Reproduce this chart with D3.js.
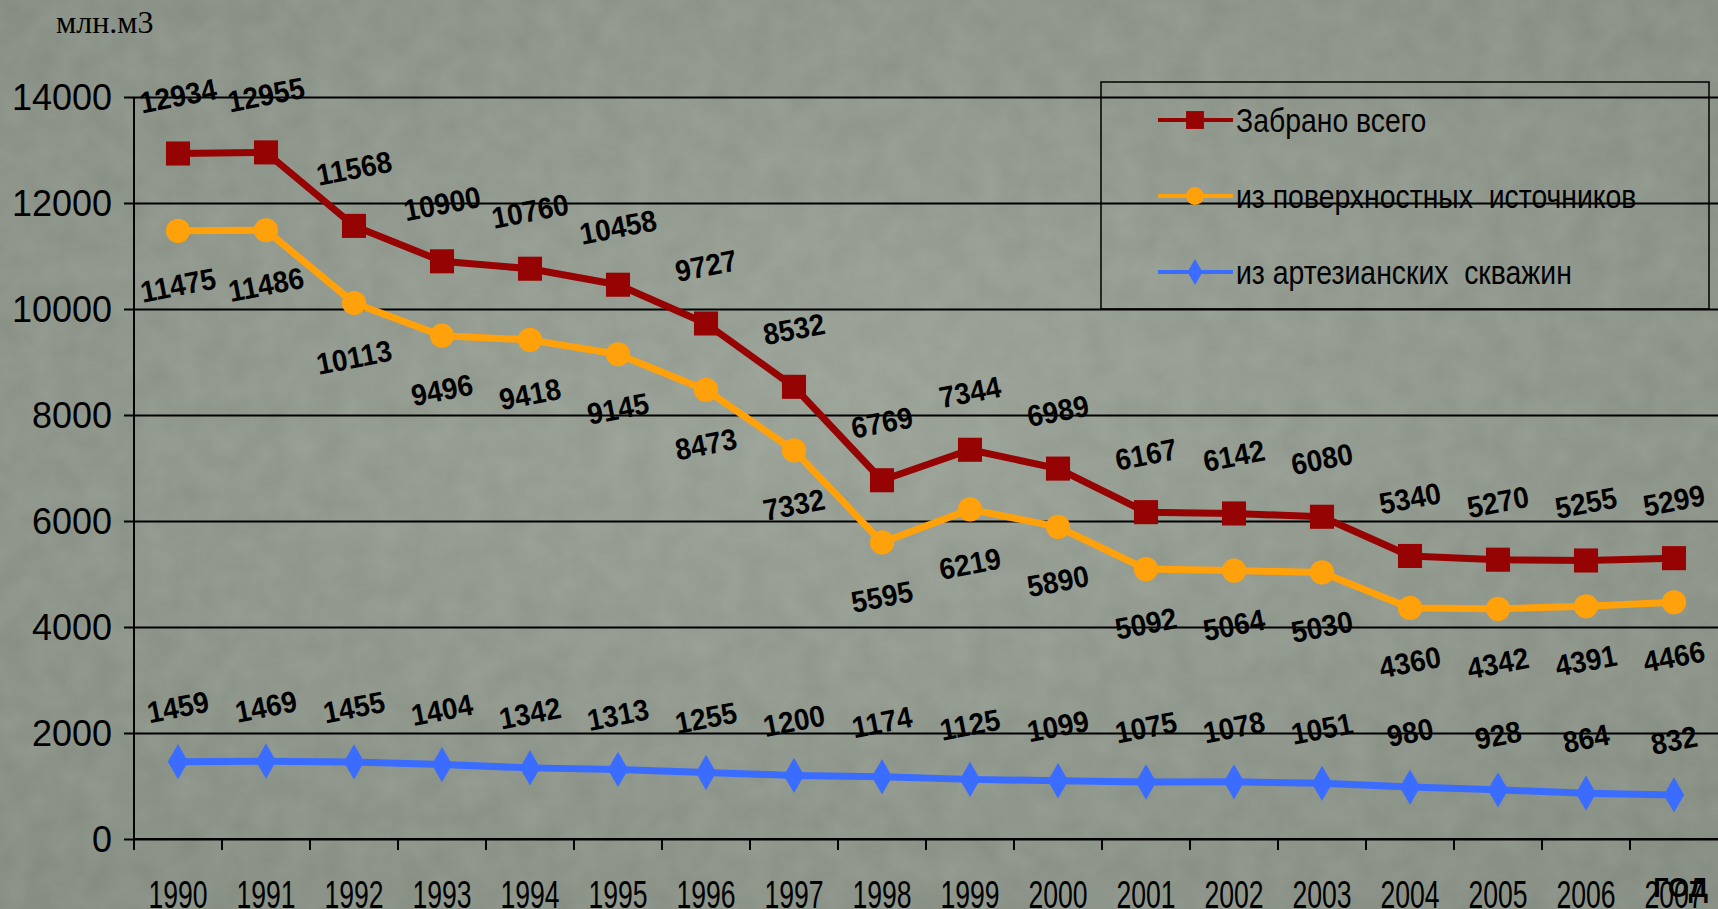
<!DOCTYPE html>
<html>
<head>
<meta charset="utf-8">
<script src="https://cdn.jsdelivr.net/npm/d3@7"></script>
<style>
  html, body { margin: 0; padding: 0; background: #8c9489; overflow: hidden; }
  svg { display: block; }
</style>
</head>
<body>
<div class="container"></div>
<script>
// yearly water intake, million m3
const years = ['1990', '1991', '1992', '1993', '1994', '1995', '1996', '1997', '1998',
  '1999', '2000', '2001', '2002', '2003', '2004', '2005', '2006', '2007'];
const totalTaken = [12934, 12955, 11568, 10900, 10760, 10458, 9727, 8532, 6769,
  7344, 6989, 6167, 6142, 6080, 5340, 5270, 5255, 5299];
const fromSurface = [11475, 11486, 10113, 9496, 9418, 9145, 8473, 7332, 5595,
  6219, 5890, 5092, 5064, 5030, 4360, 4342, 4391, 4466];
const fromArtesian = [1459, 1469, 1455, 1404, 1342, 1313, 1255, 1200, 1174,
  1125, 1099, 1075, 1078, 1051, 980, 928, 864, 832];
const yTicks = [0, 2000, 4000, 6000, 8000, 10000, 12000, 14000];
const seriesNames = ['Забрано всего', 'из поверхностных  источников', 'из артезианских  скважин'];

const globals = {
  width: 1718,
  height: 909,
  red: '#960303',
  orange: '#ffa10a',
  blue: '#3a6cff',
  ink: '#000'
};

const series = [
  { name: seriesNames[0], values: totalTaken, color: globals.red, symbol: d3.symbolSquare, size: 580, labelDy: -58 },
  { name: seriesNames[1], values: fromSurface, color: globals.orange, symbol: d3.symbolCircle, size: 460, labelDy: 54 },
  { name: seriesNames[2], values: fromArtesian, color: globals.blue, symbol: d3.symbolDiamond, size: 360, labelDy: -55 }
];

const plot = { left: 134, right: 1718, top: 97, bottom: 839 };

const svg = d3.select('.container')
  .append('svg')
  .attr('width', globals.width)
  .attr('height', globals.height);

// background with a soft vignette and some paper grain
const defs = svg.append('defs');
const grad = defs.append('radialGradient')
  .attr('id', 'bg')
  .attr('cx', '50%').attr('cy', '45%').attr('r', '75%');
grad.append('stop').attr('offset', '0%').attr('stop-color', '#969e93');
grad.append('stop').attr('offset', '100%').attr('stop-color', '#80887d');

const grain = defs.append('filter').attr('id', 'grain');
grain.append('feTurbulence')
  .attr('type', 'fractalNoise')
  .attr('baseFrequency', 0.035)
  .attr('numOctaves', 3)
  .attr('seed', 4);
grain.append('feColorMatrix')
  .attr('values', '0 0 0 0 0.9  0 0 0 0 0.92  0 0 0 0 0.88  0 0 0 0.13 0');

svg.append('rect').attr('width', globals.width).attr('height', globals.height).attr('fill', 'url(#bg)');
svg.append('rect').attr('width', globals.width).attr('height', globals.height).attr('filter', 'url(#grain)');

// scales
const x = d3.scaleBand()
  .domain(years)
  .range([plot.left, plot.right]);

const y = d3.scaleLinear()
  .domain([0, 14000])
  .range([plot.bottom, plot.top]);

const cx = d => x(d) + x.bandwidth() / 2;

// horizontal gridlines + y axis
const yAxis = svg.append('g')
  .attr('transform', `translate(${plot.left},0)`)
  .call(d3.axisLeft(y)
    .tickValues(yTicks)
    .tickSize(-(plot.right - plot.left))
    .tickSizeOuter(0)
    .tickPadding(22)
    .tickFormat(d3.format('d')));

yAxis.select('.domain').remove();
yAxis.selectAll('.tick line')
  .attr('x1', -10)
  .attr('stroke', globals.ink)
  .attr('stroke-width', 2);
yAxis.selectAll('.tick text')
  .attr('fill', globals.ink)
  .style('font-family', '"Liberation Sans", Arial, sans-serif')
  .style('font-size', '36px')
  .attr('dy', '0.36em');

svg.append('line')
  .attr('x1', plot.left).attr('x2', plot.left)
  .attr('y1', plot.top).attr('y2', plot.bottom)
  .attr('stroke', globals.ink)
  .attr('stroke-width', 2);

// x axis, ticks sit between the years
const xAxis = svg.append('g')
  .attr('transform', `translate(0,${plot.bottom})`);

xAxis.append('line')
  .attr('x1', plot.left).attr('x2', plot.right)
  .attr('stroke', globals.ink)
  .attr('stroke-width', 2);

xAxis.selectAll('line.tick')
  .data(years)
  .enter()
  .append('line')
  .attr('class', 'tick')
  .attr('x1', d => x(d)).attr('x2', d => x(d))
  .attr('y1', 0).attr('y2', 11)
  .attr('stroke', globals.ink)
  .attr('stroke-width', 2);

xAxis.selectAll('text')
  .data(years)
  .enter()
  .append('text')
  .attr('transform', d => `translate(${cx(d)},69) scale(0.7,1)`)
  .attr('text-anchor', 'middle')
  .attr('fill', globals.ink)
  .style('font-family', '"Liberation Sans", Arial, sans-serif')
  .style('font-size', '38px')
  .text(d => d);

// unit and axis titles
svg.append('text')
  .attr('x', 56)
  .attr('y', 33)
  .attr('fill', globals.ink)
  .style('font-family', '"Liberation Serif", "Times New Roman", serif')
  .style('font-size', '32px')
  .text('млн.м3');

svg.append('text')
  .attr('x', 1708)
  .attr('y', 897)
  .attr('text-anchor', 'end')
  .attr('fill', globals.ink)
  .style('font-family', '"Liberation Sans", Arial, sans-serif')
  .style('font-weight', 'bold')
  .style('font-size', '27px')
  .text('ГОД');

// lines and markers
const line = d3.line()
  .x((d, i) => cx(years[i]))
  .y(d => y(d));

const groups = svg.selectAll('g.series')
  .data(series)
  .enter()
  .append('g')
  .attr('class', 'series');

groups.append('path')
  .attr('d', d => line(d.values))
  .attr('fill', 'none')
  .attr('stroke', d => d.color)
  .attr('stroke-width', 7)
  .attr('stroke-linejoin', 'round');

groups.each(function (s) {
  const g = d3.select(this);
  g.selectAll('path.marker')
    .data(s.values)
    .enter()
    .append('path')
    .attr('class', 'marker')
    .attr('d', d3.symbol().type(s.symbol).size(s.size))
    .attr('transform', (d, i) => `translate(${cx(years[i])},${y(d)})`)
    .attr('fill', s.color);

  // data labels, slightly tilted like the original
  g.selectAll('text')
    .data(s.values)
    .enter()
    .append('text')
    .attr('transform', (d, i) => `translate(${cx(years[i])},${y(d) + s.labelDy}) rotate(-11) scale(0.93,1)`)
    .attr('text-anchor', 'middle')
    .attr('dy', '0.36em')
    .attr('fill', globals.ink)
    .style('font-family', '"Liberation Sans", Arial, sans-serif')
    .style('font-weight', 'bold')
    .style('font-size', '30px')
    .text(d => d);
});

// legend
const legend = svg.append('g');
legend.append('rect')
  .attr('x', 1101).attr('y', 82)
  .attr('width', 608).attr('height', 227)
  .attr('fill', 'none')
  .attr('stroke', globals.ink)
  .attr('stroke-width', 1.5);

const legendRows = legend.selectAll('g.item')
  .data(series)
  .enter()
  .append('g')
  .attr('class', 'item')
  .attr('transform', (d, i) => `translate(1158,${120 + i * 76})`);

legendRows.append('line')
  .attr('x1', 0).attr('x2', 75)
  .attr('stroke', d => d.color)
  .attr('stroke-width', 4);

legendRows.append('path')
  .attr('d', d => d3.symbol().type(d.symbol).size(d.size * 0.55)())
  .attr('transform', 'translate(37,0)')
  .attr('fill', d => d.color);

legendRows.append('text')
  .attr('transform', 'translate(78,0) scale(0.86,1)')
  .attr('dy', '0.36em')
  .attr('fill', globals.ink)
  .style('font-family', '"Liberation Sans", Arial, sans-serif')
  .style('font-size', '33px')
  .style('white-space', 'pre')
  .text(d => d.name);
</script>
</body>
</html>
